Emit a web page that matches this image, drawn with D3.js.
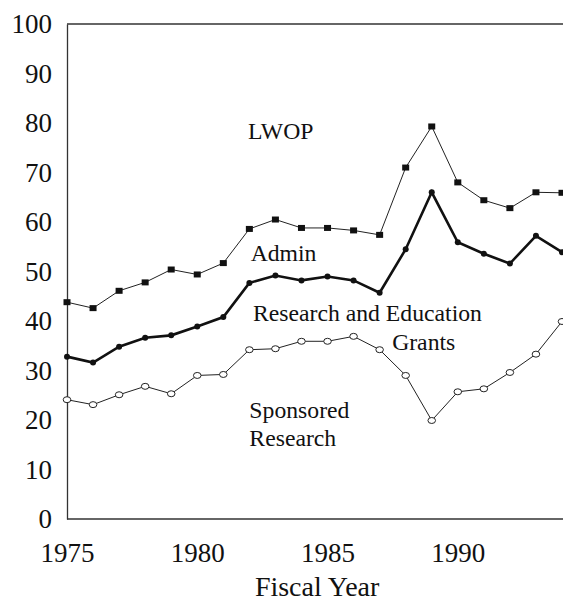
<!DOCTYPE html>
<html>
<head>
<meta charset="utf-8">
<script src="https://cdn.jsdelivr.net/npm/d3@7"></script>
<style>
  body { margin: 0; background: #fff; }
  svg text { font-family: "Liberation Serif", "Times New Roman", serif; fill: #111; }
</style>
</head>
<body>
<div id="chart"></div>
<script>
const width = 563;
const height = 602;

// data (percent)
const years = [1975, 1976, 1977, 1978, 1979, 1980, 1981, 1982, 1983, 1984,
               1985, 1986, 1987, 1988, 1989, 1990, 1991, 1992, 1993, 1994];
const lwop = [43.8, 42.6, 46.1, 47.8, 50.4, 49.4, 51.7, 58.6, 60.5, 58.8,
              58.8, 58.3, 57.4, 71.0, 79.3, 68.0, 64.4, 62.8, 66.0, 65.9];
const admin = [32.8, 31.6, 34.8, 36.6, 37.1, 38.9, 40.8, 47.7, 49.2, 48.2,
               49.0, 48.2, 45.7, 54.5, 66.0, 55.9, 53.6, 51.6, 57.2, 53.9];
const sponsored = [24.1, 23.1, 25.1, 26.8, 25.3, 29.0, 29.2, 34.2, 34.4, 35.9,
                   35.9, 36.9, 34.2, 29.0, 19.9, 25.7, 26.3, 29.6, 33.3, 39.9];
const yTicks = [0, 10, 20, 30, 40, 50, 60, 70, 80, 90, 100];
const xTicks = [1975, 1980, 1985, 1990];

// labels placed in data units: [text, year, value]
const labels = [
  ["LWOP", 1981.95, 76.8],
  ["Admin", 1982.05, 52.2],
  ["Research and Education", 1982.14, 40.1],
  ["Grants", 1987.48, 34.2],
  ["Sponsored", 1982.0, 20.5],
  ["Research", 1982.0, 14.8]
];

const margin = {left: 67, right: 1, top: 24, bottom: 83};

const svg = d3.select("#chart")
  .append("svg")
  .attr("width", width)
  .attr("height", height);

const x = d3.scaleLinear()
  .domain([1975, 1994])
  .range([margin.left, width - margin.right]);

const y = d3.scaleLinear()
  .domain([0, 100])
  .range([height - margin.bottom, margin.top]);

// top frame line
svg.append("line")
  .attr("x1", x(1975)).attr("x2", width)
  .attr("y1", y(100)).attr("y2", y(100))
  .attr("stroke", "#333")
  .attr("stroke-width", 1.3);

// axes
const yAxis = svg.append("g")
  .attr("transform", `translate(${x(1975)},0)`)
  .call(d3.axisLeft(y).tickValues(yTicks).tickSize(0).tickPadding(15));

const xAxis = svg.append("g")
  .attr("transform", `translate(0,${y(0)})`)
  .call(d3.axisBottom(x).tickValues(xTicks).tickFormat(d3.format("d")).tickSize(0).tickPadding(24));

xAxis.select(".domain").attr("d", `M${x(1975)},0H${width}`);

[yAxis, xAxis].forEach(g => {
  g.select(".domain").attr("stroke", "#333").attr("stroke-width", 1.3);
  g.selectAll("text")
    .style("font-family", '"Liberation Serif", "Times New Roman", serif')
    .style("font-size", "27px")
    .attr("fill", "#111");
});

// axis title
svg.append("text")
  .attr("x", x(1984.6))
  .attr("y", 596)
  .attr("text-anchor", "middle")
  .style("font-size", "28px")
  .text("Fiscal Year");

const line = d3.line()
  .x((d, i) => x(years[i]))
  .y(d => y(d));

// Sponsored Research: thin line, open circles
svg.append("path")
  .datum(sponsored)
  .attr("fill", "none")
  .attr("stroke", "#222")
  .attr("stroke-width", 1)
  .attr("d", line);

// LWOP: thin line, filled squares
svg.append("path")
  .datum(lwop)
  .attr("fill", "none")
  .attr("stroke", "#222")
  .attr("stroke-width", 1)
  .attr("d", line);

// Admin: thick line, filled dots
svg.append("path")
  .datum(admin)
  .attr("fill", "none")
  .attr("stroke", "#111")
  .attr("stroke-width", 2.6)
  .attr("d", line);

// text labels (white halo cuts the line under "Grants" like the original)
svg.selectAll(".series-label")
  .data(labels)
  .enter().append("text")
  .attr("class", "series-label")
  .attr("x", d => x(d[1]))
  .attr("y", d => y(d[2]))
  .style("font-size", "23.7px")
  .style("paint-order", "stroke")
  .attr("stroke", "#fff")
  .attr("stroke-width", d => d[0] === "Grants" ? 3 : 0)
  .text(d => d[0]);

svg.selectAll(".sq")
  .data(lwop)
  .enter().append("rect")
  .attr("class", "sq")
  .attr("x", (d, i) => x(years[i]) - 3.5)
  .attr("y", d => y(d) - 3)
  .attr("width", 7)
  .attr("height", 6)
  .attr("fill", "#111");

svg.selectAll(".dot")
  .data(admin)
  .enter().append("circle")
  .attr("class", "dot")
  .attr("cx", (d, i) => x(years[i]))
  .attr("cy", d => y(d))
  .attr("r", 3)
  .attr("fill", "#111");

svg.selectAll(".ring")
  .data(sponsored)
  .enter().append("ellipse")
  .attr("class", "ring")
  .attr("cx", (d, i) => x(years[i]))
  .attr("cy", d => y(d))
  .attr("rx", 3.8)
  .attr("ry", 3)
  .attr("fill", "#fff")
  .attr("stroke", "#222")
  .attr("stroke-width", 1);
</script>
</body>
</html>
